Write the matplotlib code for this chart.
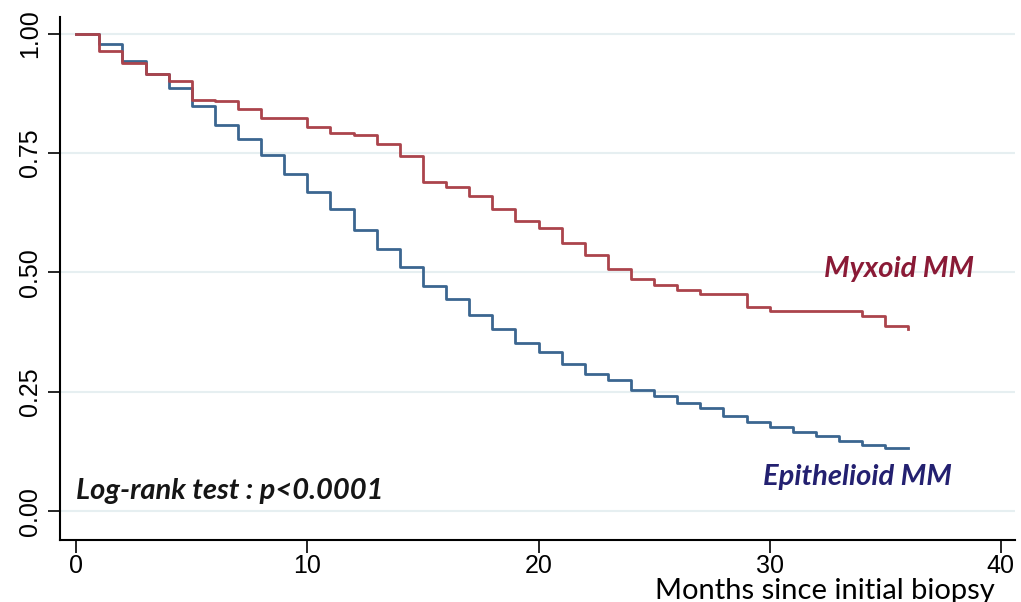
import matplotlib.pyplot as plt
import numpy as np

months = np.arange(0, 37)

myxoid = [1.00, 0.964, 0.939, 0.915, 0.901, 0.862, 0.858, 0.843, 0.824, 0.824,
          0.804, 0.792, 0.788, 0.769, 0.744, 0.690, 0.678, 0.659, 0.633, 0.608,
          0.594, 0.561, 0.536, 0.507, 0.486, 0.473, 0.463, 0.454, 0.454, 0.428,
          0.420, 0.420, 0.420, 0.420, 0.409, 0.388, 0.381]

epithelioid = [1.00, 0.978, 0.943, 0.915, 0.887, 0.848, 0.808, 0.780, 0.745, 0.706,
               0.668, 0.633, 0.589, 0.550, 0.511, 0.472, 0.444, 0.410, 0.381, 0.353,
               0.333, 0.308, 0.288, 0.275, 0.255, 0.241, 0.226, 0.216, 0.200, 0.188,
               0.177, 0.167, 0.158, 0.148, 0.139, 0.132, 0.132]

y_ticks = [0, 0.25, 0.5, 0.75, 1.0]
y_labels = ['0.00', '0.25', '0.50', '0.75', '1.00']
x_ticks = [0, 10, 20, 30, 40]

fig = plt.figure(figsize=(10.21, 6.02), dpi=100)
ax = fig.add_axes([0.0588, 0.103, 0.935, 0.869])

for y in y_ticks:
    ax.axhline(y, color='#e6eff1', lw=1.5, zorder=0)

ax.step(months, epithelioid, where='post', color='#3b6690', lw=2)
ax.step(months, myxoid, where='post', color='#ab444c', lw=2)

ax.set_xlim(-0.7, 40.6)
ax.set_ylim(-0.06, 1.035)
ax.set_xticks(x_ticks)
ax.set_yticks(y_ticks)
ax.set_yticklabels(y_labels, rotation=90, va='center', fontfamily='Liberation Sans')
ax.tick_params(axis='both', direction='out', length=9, width=1.2, labelsize=18)
ax.tick_params(axis='x', pad=1)
ax.tick_params(axis='y', pad=4)
for lab in ax.get_xticklabels():
    lab.set_fontfamily('Liberation Sans')

ax.spines['top'].set_visible(False)
ax.spines['right'].set_visible(False)
ax.spines['left'].set_linewidth(1.5)
ax.spines['bottom'].set_linewidth(1.5)

ax.text(35.6, 0.508, 'Myxoid MM', color='#8a1a36', fontsize=21,
        fontweight='bold', fontstyle='italic', family='Lato', ha='center', va='center')
ax.text(33.8, 0.071, 'Epithelioid MM', color='#232070', fontsize=21,
        fontweight='bold', fontstyle='italic', family='Lato', ha='center', va='center')
ax.text(0, 0.042, 'Log-rank test : p<0.0001', color='#151515', fontsize=21,
        fontweight='bold', fontstyle='italic', family='Lato', ha='left', va='center')

fig.text(0.642, 1 - 599 / 602, 'Months since initial biopsy', fontsize=21, family='Lato',
         ha='left', va='baseline')

fig.savefig('out.png', dpi=100)
